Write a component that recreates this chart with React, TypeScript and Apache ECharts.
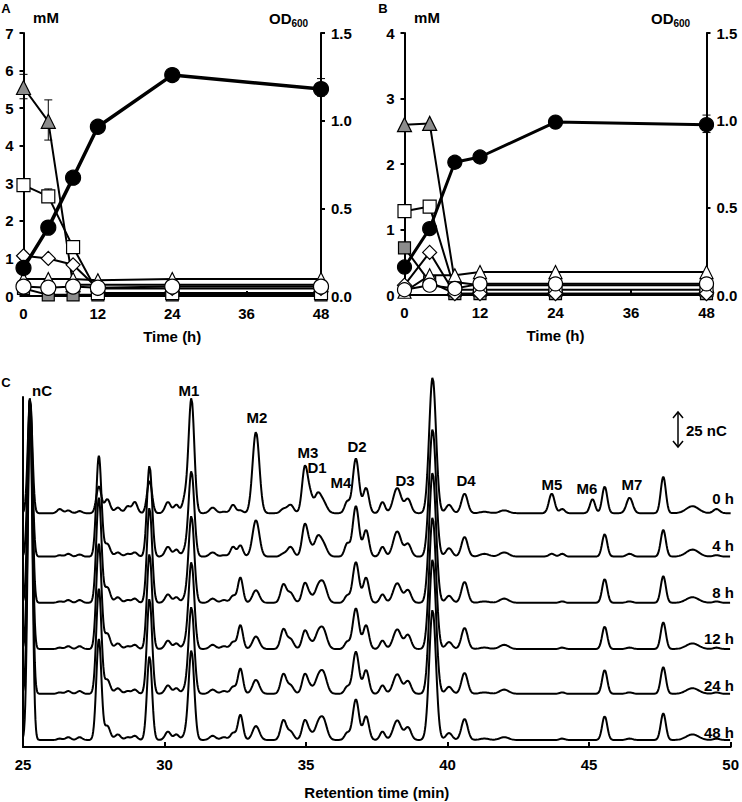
import React, { useEffect, useRef } from "react";
import * as echarts from "echarts";

const FONT = "Liberation Sans, Arial, sans-serif";

// ---------- Panels A and B (time course) ----------
const hours = [0, 4, 8, 12, 24, 48];

// Panel A, mM (left axis)
const aGrayTriangle = [5.55, 4.65, 0.3, 0.3, 0.3, 0.3];
const aWhiteSquare = [2.95, 2.65, 1.3, 0.08, 0.08, 0.08];
const aGraySquare = [0.2, 0.03, 0.03, 0.03, 0.03, 0.03];
const aWhiteDiamond = [1.07, 1.0, 0.83, 0.2, 0.2, 0.2];
const aWhiteTriangle = [0.45, 0.45, 0.45, 0.42, 0.45, 0.45];
const aWhiteCircle = [0.25, 0.22, 0.25, 0.22, 0.25, 0.25];
// Panel A, OD600 (right axis)
const aOD = [0.16, 0.39, 0.675, 0.965, 1.26, 1.18];

// Panel B, mM (left axis)
const bGrayTriangle = [2.6, 2.62, 0.2, 0.15, 0.15, 0.15];
const bWhiteSquare = [1.28, 1.35, 0.08, 0.08, 0.08, 0.08];
const bGraySquare = [0.72, 0.2, 0.02, 0.02, 0.02, 0.02];
const bWhiteDiamond = [0.15, 0.65, 0.02, 0.02, 0.02, 0.02];
const bWhiteTriangle = [0.05, 0.3, 0.3, 0.35, 0.35, 0.35];
const bWhiteCircle = [0.08, 0.15, 0.1, 0.17, 0.17, 0.17];
// Panel B, OD600 (right axis)
const bOD = [0.16, 0.38, 0.76, 0.79, 0.99, 0.975];

// error bars [time, low, high]
const aTriangleErr = [[0, 5.25, 5.9], [4, 4.15, 5.22]];
const aSquareErr = [[0, 2.85, 3.05], [4, 2.55, 2.85]];
const aODErr = [[48, 1.14, 1.24]];
const bODErr = [[48, 0.93, 1.03]];

// ---------- Panel C (chromatograms) ----------
const peakTimes = [
  25.25, 26.3, 26.6, 27.0, 27.68, 27.98, 28.35, 28.7, 28.95, 29.47,
  30.12, 30.42, 30.72, 30.95, 31.7, 32.1, 32.42, 32.68, 33.23, 34.2,
  34.45, 34.96, 35.15, 35.4, 35.6, 36.45, 36.76, 37.12, 37.7, 38.22,
  38.6, 39.47, 40.05, 40.6, 41.3, 42.0, 43.68, 44.05, 45.12, 45.55,
  46.43, 47.62, 48.65, 49.5,
];
const peakWidths = [
  0.08, 0.09, 0.09, 0.09, 0.09, 0.1, 0.1, 0.09, 0.09, 0.09,
  0.1, 0.09, 0.09, 0.1, 0.11, 0.11, 0.09, 0.09, 0.12, 0.1,
  0.11, 0.1, 0.09, 0.11, 0.13, 0.09, 0.11, 0.1, 0.09, 0.14,
  0.11, 0.12, 0.11, 0.11, 0.16, 0.16, 0.1, 0.09, 0.09, 0.09,
  0.11, 0.09, 0.22, 0.11,
];
const heights0h = [
  82, 3, 2, 1.5, 19, 10, 4, 5, 8, 23,
  8, 6, 10, 82, 4, 1, 6, 2, 58, 3,
  6, 33, 11, 12, 8, 8, 39, 18, 8, 18,
  10, 97, 6, 14, 1, 2, 14, 3, 10, 19,
  11, 26, 5, 3,
];
const heights4h = [
  114, 1, 2, 1.5, 72, 9, 3, 2, 3, 65,
  7, 5, 4, 61, 3, 1, 7, 8, 26, 2,
  7, 23, 6, 12, 9, 9, 36, 19, 7, 18,
  9, 91, 6, 14, 2, 3, 2, 2, 0, 16,
  2, 19, 5, 1,
];
const heights8h = [
  146, 1, 2, 2, 75, 11, 4, 2, 3, 68,
  6, 4, 3, 62, 3, 2, 5, 18, 9, 13,
  7, 14, 4, 8, 14, 5, 29, 18, 6, 14,
  9, 93, 5, 15, 1, 3, 0, 1, 0, 17,
  1, 19, 4, 1,
];
const heights12h = [
  179, 1, 2, 2, 75, 11, 4, 2, 3, 68,
  6, 4, 3, 62, 3, 2, 5, 17, 9, 14,
  7, 13, 4, 8, 14, 5, 29, 17, 6, 14,
  10, 94, 5, 15, 1, 3, 0, 1, 0, 16,
  1, 19, 4, 1,
];
const heights24h = [
  211, 1, 2, 2, 75, 10, 4, 2, 3, 68,
  6, 4, 3, 62, 3, 2, 5, 18, 10, 14,
  6, 14, 4, 8, 15, 5, 30, 17, 6, 14,
  9, 96, 5, 15, 1, 3, 0, 1, 0, 17,
  1, 19, 4, 1,
];
const heights48h = [
  244, 1, 2, 2, 72, 10, 4, 2, 3, 60,
  6, 4, 3, 64, 3, 2, 5, 18, 10, 14,
  6, 14, 4, 8, 15, 5, 29, 17, 6, 14,
  9, 93, 5, 15, 1, 2, 0, 1, 0, 17,
  1, 19, 4, 1,
];
const traceHeights = [heights0h, heights4h, heights8h, heights12h, heights24h, heights48h];
const traceLabels = ["0 h", "4 h", "8 h", "12 h", "24 h", "48 h"];
const traceOffsets = [167, 136, 103, 70, 38, 5];

const peakLabels = ["nC", "M1", "M2", "M3", "D1", "M4", "D2", "D3", "D4", "M5", "M6", "M7"];
const peakLabelPos = [
  [42, 390], [189, 390], [257, 417], [308, 452], [317, 467], [341, 482],
  [357, 446], [405, 480], [466, 480], [552, 484], [587, 488], [632, 484],
];
const traceLabelY = [498, 545, 592, 638, 685, 732];

function buildTrace(heights: number[], offset: number) {
  const pts: number[][] = [];
  for (let i = 0; i <= 1250; i++) {
    const t = 25 + i * 0.02;
    let v = offset;
    for (let k = 0; k < peakTimes.length; k++) {
      const d = (t - peakTimes[k]) / peakWidths[k];
      if (Math.abs(d) < 8) v += heights[k] * Math.exp(-0.5 * d * d);
    }
    pts.push([+t.toFixed(2), v]);
  }
  return pts;
}

const boldLabel = { fontFamily: FONT, fontWeight: "bold" as const, fontSize: 15, color: "#000" };

function errSeries(xAxisIndex: number, yAxisIndex: number, data: number[][]) {
  return {
    type: "custom",
    xAxisIndex,
    yAxisIndex,
    z: 1,
    silent: true,
    renderItem: (_p: any, api: any) => {
      const x = api.value(0);
      const p1 = api.coord([x, api.value(1)]);
      const p2 = api.coord([x, api.value(2)]);
      const w = 4;
      const st = { stroke: "#000", lineWidth: 1 };
      return {
        type: "group",
        children: [
          { type: "line", shape: { x1: p1[0], y1: p1[1], x2: p2[0], y2: p2[1] }, style: st },
          { type: "line", shape: { x1: p1[0] - w, y1: p1[1], x2: p1[0] + w, y2: p1[1] }, style: st },
          { type: "line", shape: { x1: p2[0] - w, y1: p2[1], x2: p2[0] + w, y2: p2[1] }, style: st },
        ],
      };
    },
    data,
  };
}

function mSeries(xi: number, yi: number, vals: number[], symbol: string, fill: string, size: number, z: number, lw = 2) {
  return {
    type: "line",
    xAxisIndex: xi,
    yAxisIndex: yi,
    data: hours.map((h, i) => [h, vals[i]]),
    symbol,
    symbolSize: size,
    showSymbol: true,
    clip: false,
    z,
    lineStyle: { color: "#000", width: lw },
    itemStyle: { color: fill, borderColor: "#000", borderWidth: 1.2 },
    silent: true,
  };
}

function timeX(gridIndex: number) {
  return {
    type: "value",
    gridIndex,
    min: 0,
    max: 48,
    interval: 12,
    name: "Time (h)",
    nameLocation: "middle",
    nameGap: 33,
    nameTextStyle: boldLabel,
    axisLine: { show: true, lineStyle: { color: "#000", width: 2 } },
    axisTick: { show: true, inside: true, length: 5, lineStyle: { color: "#000", width: 2 } },
    axisLabel: { ...boldLabel, margin: 10 },
    splitLine: { show: false },
  };
}

function leftY(gridIndex: number, max: number) {
  return {
    type: "value",
    gridIndex,
    position: "left",
    min: 0,
    max,
    interval: 1,
    axisLine: { show: true, onZero: false, lineStyle: { color: "#000", width: 2 } },
    axisTick: { show: true, inside: false, length: 4, lineStyle: { color: "#000", width: 2 } },
    axisLabel: { ...boldLabel, margin: 10 },
    splitLine: { show: false },
  };
}

function rightY(gridIndex: number) {
  return {
    type: "value",
    gridIndex,
    position: "right",
    min: 0,
    max: 1.5,
    interval: 0.5,
    axisLine: { show: true, onZero: false, lineStyle: { color: "#000", width: 2 } },
    axisTick: { show: true, inside: false, length: 4, lineStyle: { color: "#000", width: 2 } },
    axisLabel: { ...boldLabel, margin: 10, formatter: (v: number) => v.toFixed(1) },
    splitLine: { show: false },
  };
}

function txt(text: string, x: number, y: number, size = 15, align = "center") {
  return {
    type: "text",
    x,
    y,
    z: 100,
    style: {
      text,
      fontFamily: FONT,
      fontWeight: "bold",
      fontSize: size,
      fill: "#000",
      align,
      verticalAlign: "middle",
    },
  };
}

function odText(x: number, y: number) {
  return {
    type: "text",
    x,
    y,
    z: 100,
    style: {
      text: "{a|OD}{b|600}",
      align: "left",
      verticalAlign: "middle",
      rich: {
        a: { fontFamily: FONT, fontWeight: "bold", fontSize: 15, fill: "#000", lineHeight: 20, verticalAlign: "middle" },
        b: { fontFamily: FONT, fontWeight: "bold", fontSize: 10, fill: "#000", lineHeight: 20, verticalAlign: "bottom", padding: [8, 0, 0, 0] },
      },
    },
  };
}

export default function App() {
  const ref = useRef<HTMLDivElement>(null);
  useEffect(() => {
    if (!ref.current) return;
    const chart = echarts.init(ref.current, undefined, { renderer: "svg" });

    const traces = traceHeights.map((h, i) => ({
      type: "line",
      xAxisIndex: 2,
      yAxisIndex: 4,
      name: traceLabels[i],
      data: buildTrace(h, traceOffsets[i]),
      showSymbol: false,
      symbol: "none",
      clip: false,
      silent: true,
      lineStyle: { color: "#000", width: 2 },
      z: 2,
    }));

    const graphics: any[] = [
      txt("A", 6, 8, 13),
      txt("B", 383, 8, 13),
      txt("C", 6, 382, 13),
      txt("mM", 46, 17),
      txt("mM", 427, 17),
      odText(269, 18),
      odText(651, 18),
      ...peakLabels.map((l, i) => txt(l, peakLabelPos[i][0], peakLabelPos[i][1])),
      ...traceLabels.map((l, i) => txt(l, 734, traceLabelY[i], 15, "right")),
      txt("25 nC", 686, 430, 15, "left"),
      {
        type: "group",
        z: 100,
        children: [
          { type: "line", shape: { x1: 678, y1: 412, x2: 678, y2: 447 }, style: { stroke: "#000", lineWidth: 1.5 } },
          { type: "polyline", shape: { points: [[673, 418], [678, 412], [683, 418]] }, style: { stroke: "#000", lineWidth: 1.5, fill: null } },
          { type: "polyline", shape: { points: [[673, 441], [678, 447], [683, 441]] }, style: { stroke: "#000", lineWidth: 1.5, fill: null } },
        ],
      },
    ];

    chart.setOption({
      animation: false,
      backgroundColor: "#fff",
      grid: [
        { left: 23.5, top: 33, width: 297.5, height: 263 },
        { left: 404.5, top: 33, width: 302, height: 262 },
        { left: 23, top: 397, width: 708, height: 350 },
      ],
      xAxis: [
        timeX(0),
        timeX(1),
        {
          type: "value",
          gridIndex: 2,
          min: 25,
          max: 50,
          interval: 5,
          name: "Retention time (min)",
          nameLocation: "middle",
          nameGap: 38,
          nameTextStyle: boldLabel,
          axisLine: { show: true, lineStyle: { color: "#000", width: 2 } },
          axisTick: { show: true, inside: true, length: 5, lineStyle: { color: "#000", width: 2 } },
          axisLabel: { ...boldLabel, margin: 10 },
          splitLine: { show: false },
        },
      ],
      yAxis: [
        leftY(0, 7),
        rightY(0),
        leftY(1, 4),
        rightY(1),
        {
          type: "value",
          gridIndex: 2,
          min: 0,
          max: 250,
          axisLine: { show: true, onZero: false, lineStyle: { color: "#000", width: 2 } },
          axisTick: { show: false },
          axisLabel: { show: false },
          splitLine: { show: false },
        },
      ],
      series: [
        // Panel A
        errSeries(0, 0, aTriangleErr),
        errSeries(0, 0, aSquareErr),
        errSeries(0, 1, aODErr),
        mSeries(0, 0, aGraySquare, "rect", "#8c8c8c", 12, 3),
        mSeries(0, 0, aGrayTriangle, "triangle", "#8c8c8c", 14, 4),
        mSeries(0, 0, aWhiteSquare, "rect", "#fff", 13, 5),
        mSeries(0, 0, aWhiteDiamond, "diamond", "#fff", 14, 6),
        mSeries(0, 0, aWhiteTriangle, "triangle", "#fff", 13, 7),
        mSeries(0, 0, aWhiteCircle, "circle", "#fff", 15, 9),
        mSeries(0, 1, aOD, "circle", "#000", 15, 8, 3.5),
        // Panel B
        errSeries(1, 3, bODErr),
        mSeries(1, 2, bGraySquare, "rect", "#8c8c8c", 12, 3),
        mSeries(1, 2, bGrayTriangle, "triangle", "#8c8c8c", 14, 4),
        mSeries(1, 2, bWhiteSquare, "rect", "#fff", 13, 5),
        mSeries(1, 2, bWhiteDiamond, "diamond", "#fff", 14, 6),
        mSeries(1, 2, bWhiteTriangle, "triangle", "#fff", 13, 7),
        mSeries(1, 2, bWhiteCircle, "circle", "#fff", 14, 9),
        mSeries(1, 3, bOD, "circle", "#000", 14, 8, 3),
        // Panel C
        ...traces,
      ],
      graphic: graphics,
    });
    return () => chart.dispose();
  }, []);

  return (
    <div
      ref={ref}
      style={{ position: "absolute", left: 0, top: 0, width: 742, height: 802, background: "#fff" }}
    />
  );
}
